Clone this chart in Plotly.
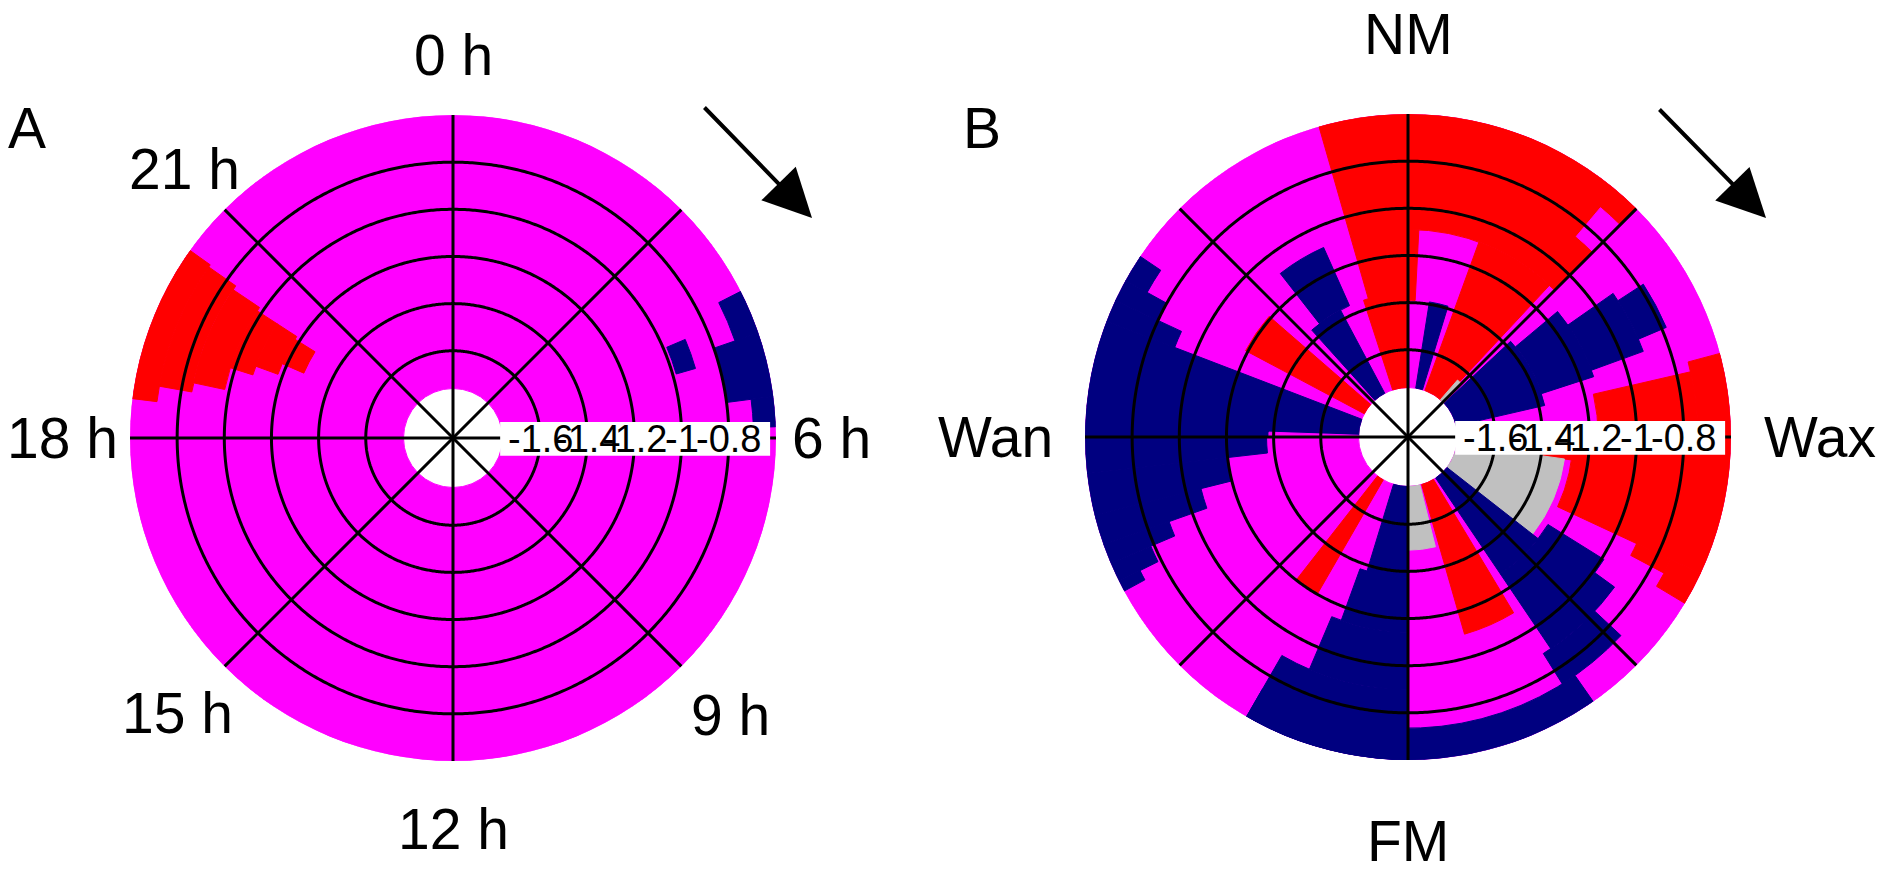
import math
import plotly.graph_objects as go

FIG_W, FIG_H = 1883, 880
COLORS = {"m": "#FF00FF", "r": "#FF0000", "n": "#000080", "g": "#C0C0C0"}
FONT = "Liberation Sans, Arial, sans-serif"

# radial scale (values shown on the radial axis)
R_CENTER = -1.97
R_INNER = -1.76
R_OUTER = -0.60
radial_ticks = [-1.6, -1.4, -1.2, -1.0, -0.8]
radial_text = ["-1.6", "-1.4", "-1.2", "-1", "-0.8"]

# angular axis
angle_ticks = [0, 45, 90, 135, 180, 225, 270, 315]
a_angle_text = ["0 h", "", "6 h", "9 h", "12 h", "15 h", "18 h", "21 h"]
b_angle_text = ["NM", "", "Wax", "", "FM", "", "Wan", ""]
# distance (px) of each angular label centre from the disc centre
a_label_px = [383, 0, 378, 392, 391, 389, 391, 380]
b_label_px = [403, 0, 412, 0, 404, 0, 413, 0]

# ---------------- Panel A cells (category, theta start, theta end, r start, r end)
a_cat = ["m", "m", "r", "r", "r", "r", "r", "r", "n", "n", "n", "n"]
a_t0 = [0, 180, 277, 280, 282, 287.5, 290, 293.5, 63, 71, 82.6, 67]
a_t1 = [180, 360, 305.5, 305, 304, 303, 303, 302, 71, 82.6, 88, 74]
a_r0 = [-1.76, -1.76, -0.705, -0.845, -0.98, -1.08, -1.18, -1.28, -0.705, -0.80, -0.695, -0.985]
a_r1 = [-0.60, -0.60, -0.60, -0.705, -0.845, -0.98, -1.08, -1.18, -0.60, -0.60, -0.60, -0.90]

# ---------------- Panel B cells
b_cat = ["m", "m",
         "n", "n", "n", "n", "n", "n", "n", "n", "n", "n", "m",
         "r", "n", "n",
         "r", "r", "r", "r", "r", "n", "g", "m",
         "n", "n", "n", "n",
         "r", "r", "r", "r", "r", "r", "g", "g",
         "n", "n", "n", "n", "n",
         "r", "g",
         "n", "n", "n", "n",
         "r"]
b_t0 = [0, 180,
        263.5, 256, 250.5, 247, 243.5, 241.5, 270, 291, 295, 299, 270,
        298, 318, 322,
        342, 344, 0, 0, 20, 9, 41, 40,
        47, 50, 55, 57,
        75, 77, 90, 115, 115, 90, 90, 98,
        128, 122, 126, 133, 145,
        149, 166,
        180, 180, 180, 180,
        210]
b_t1 = [180, 360,
        270, 263.5, 256, 250.5, 247, 243.5, 291, 295, 299, 304, 272,
        311, 332, 336,
        344, 360, 45, 3, 43, 17, 45, 45,
        77, 72, 70, 67,
        90, 90, 115, 121, 118, 98, 128, 128,
        146, 146, 146, 148, 210,
        164, 180,
        197, 200, 203, 210,
        218]
b_r0 = [-1.76, -1.76,
        -1.37, -1.20, -1.065, -0.895, -0.785, -0.70, -1.76, -0.91, -0.80, -0.705, -1.76,
        -1.76, -1.76, -1.36,
        -1.76, -1.76, -1.09, -1.39, -1.76, -1.76, -1.76, -0.86,
        -1.76, -1.375, -1.142, -0.908,
        -0.74, -1.163, -1.27, -0.74, -0.90, -1.40, -1.76, -1.40,
        -1.76, -1.27, -0.99, -0.887, -0.735,
        -1.76, -1.76,
        -1.76, -1.375, -1.142, -0.90,
        -1.76]
b_r1 = [-0.60, -0.60,
        -0.60, -0.60, -0.60, -0.60, -0.60, -0.60, -0.60, -0.60, -0.60, -0.60, -1.38,
        -1.19, -1.36, -1.09,
        -1.36, -0.60, -0.60, -1.09, -1.09, -1.39, -1.65, -0.70,
        -1.375, -1.142, -0.908, -0.78,
        -0.60, -0.74, -0.60, -0.60, -0.74, -1.27, -1.40, -1.30,
        -1.27, -0.99, -0.887, -0.735, -0.60,
        -1.10, -1.49,
        -1.375, -1.142, -0.90, -0.60,
        -1.20]

# ---------------- geometry of the two discs (pixels)
CENTERS = [(453, 438), (1408, 437)]
RADIUS_PX = 323
PPU = RADIUS_PX / (R_OUTER - R_CENTER)   # pixels per radial unit
CART_DOMAINS = [(0.0, 0.5), (0.5, 1.0)]


def cells(cat, t0, t1, r0, r1, subplot):
    cols = [COLORS[c] for c in cat]
    return go.Barpolar(
        theta=[(a + b) / 2 for a, b in zip(t0, t1)],
        width=[b - a for a, b in zip(t0, t1)],
        base=r0,
        r=[b - a for a, b in zip(r0, r1)],
        marker=dict(color=cols, line=dict(width=1, color=cols)),
        subplot=subplot, hoverinfo="skip", showlegend=False,
    )


def grid(subplot):
    out = []
    ring_theta = [k * 0.5 for k in range(721)]
    for v in radial_ticks:
        out.append(go.Scatterpolar(r=[v] * len(ring_theta), theta=ring_theta, mode="lines",
                                   line=dict(color="black", width=3), subplot=subplot,
                                   hoverinfo="skip", showlegend=False))
    for a in angle_ticks[:4]:
        out.append(go.Scatterpolar(r=[R_OUTER, R_CENTER, R_OUTER], theta=[a, a, a + 180],
                                   mode="lines", line=dict(color="black", width=3),
                                   subplot=subplot, hoverinfo="skip", showlegend=False))
    return out


fig = go.Figure()
fig.add_trace(cells(a_cat, a_t0, a_t1, a_r0, a_r1, "polar"))
fig.add_trace(cells(b_cat, b_t0, b_t1, b_r0, b_r1, "polar2"))
for tr in grid("polar") + grid("polar2"):
    fig.add_trace(tr)
fig.add_trace(go.Scatter(x=[], y=[], xaxis="x", yaxis="y", showlegend=False))
fig.add_trace(go.Scatter(x=[], y=[], xaxis="x2", yaxis="y2", showlegend=False))

layout = dict(
    width=FIG_W, height=FIG_H, margin=dict(l=0, r=0, t=0, b=0),
    paper_bgcolor="white", plot_bgcolor="rgba(0,0,0,0)", showlegend=False,
    font=dict(family=FONT, color="black"),
)

annotations = []
shapes = []
for i, (cx, cy) in enumerate(CENTERS):
    pname = "polar" if i == 0 else "polar2"
    layout[pname] = dict(
        domain=dict(x=[(cx - RADIUS_PX) / FIG_W, (cx + RADIUS_PX) / FIG_W],
                    y=[1 - (cy + RADIUS_PX) / FIG_H, 1 - (cy - RADIUS_PX) / FIG_H]),
        bgcolor="white", bargap=0,
        radialaxis=dict(range=[R_CENTER, R_OUTER], tickvals=radial_ticks, ticktext=radial_text,
                        showticklabels=False, ticks="", showline=False, angle=0,
                        showgrid=False),
        angularaxis=dict(rotation=90, direction="clockwise", tickvals=angle_ticks,
                         showticklabels=False, ticks="", showline=False, showgrid=False),
    )
    # invisible cartesian frame sharing the disc's scale, used to place text
    xname = "xaxis" if i == 0 else "xaxis2"
    yname = "yaxis" if i == 0 else "yaxis2"
    d0, d1 = CART_DOMAINS[i]
    x0px, x1px = d0 * FIG_W, d1 * FIG_W
    layout[xname] = dict(domain=[d0, d1], visible=False, fixedrange=True,
                         range=[R_CENTER - (cx - x0px) / PPU, R_CENTER + (x1px - cx) / PPU])
    layout[yname] = dict(domain=[0, 1], visible=False, fixedrange=True,
                         range=[-(FIG_H - cy) / PPU, cy / PPU],
                         anchor="x" if i == 0 else "x2")
    if i == 1:
        layout[xname]["anchor"] = "y2"
    xr = "x" if i == 0 else "x2"
    yr = "y" if i == 0 else "y2"
    texts = a_angle_text if i == 0 else b_angle_text
    dists = a_label_px if i == 0 else b_label_px
    for ang, txt, dpx in zip(angle_ticks, texts, dists):
        if not txt:
            continue
        d = dpx / PPU
        annotations.append(dict(
            x=R_CENTER + d * math.sin(math.radians(ang)),
            y=d * math.cos(math.radians(ang)),
            xref=xr, yref=yr, text=txt, showarrow=False,
            xanchor="center", yanchor="middle", font=dict(size=57, family=FONT)))
    # white box behind the radial tick labels
    shapes.append(dict(type="rect", xref=xr, yref=yr, x0=-1.77, x1=-0.625,
                       y0=-0.075, y1=0.068, fillcolor="white", line=dict(width=0),
                       layer="above"))
    for v, t in zip(radial_ticks, radial_text):
        annotations.append(dict(x=v, y=-0.004, xref=xr, yref=yr, text=t, showarrow=False,
                                xanchor="center", yanchor="middle",
                                font=dict(size=38, family=FONT)))

# panel letters
annotations.append(dict(x=27 / FIG_W, y=1 - 128 / FIG_H, xref="paper", yref="paper",
                        text="A", showarrow=False, xanchor="center", yanchor="middle",
                        font=dict(size=57, family=FONT)))
annotations.append(dict(x=982 / FIG_W, y=1 - 128 / FIG_H, xref="paper", yref="paper",
                        text="B", showarrow=False, xanchor="center", yanchor="middle",
                        font=dict(size=57, family=FONT)))
# direction arrows
for tip, start in [((812, 218), (703, 106)), ((1766, 218), (1658, 108))]:
    annotations.append(dict(x=tip[0] / FIG_W, y=1 - tip[1] / FIG_H, xref="paper", yref="paper",
                            ax=start[0] - tip[0], ay=start[1] - tip[1], text="",
                            showarrow=True, arrowhead=2, arrowsize=2.4, arrowwidth=4,
                            arrowcolor="black"))

layout["annotations"] = annotations
layout["shapes"] = shapes
fig.update_layout(**layout)
fig.write_html("out.html")
